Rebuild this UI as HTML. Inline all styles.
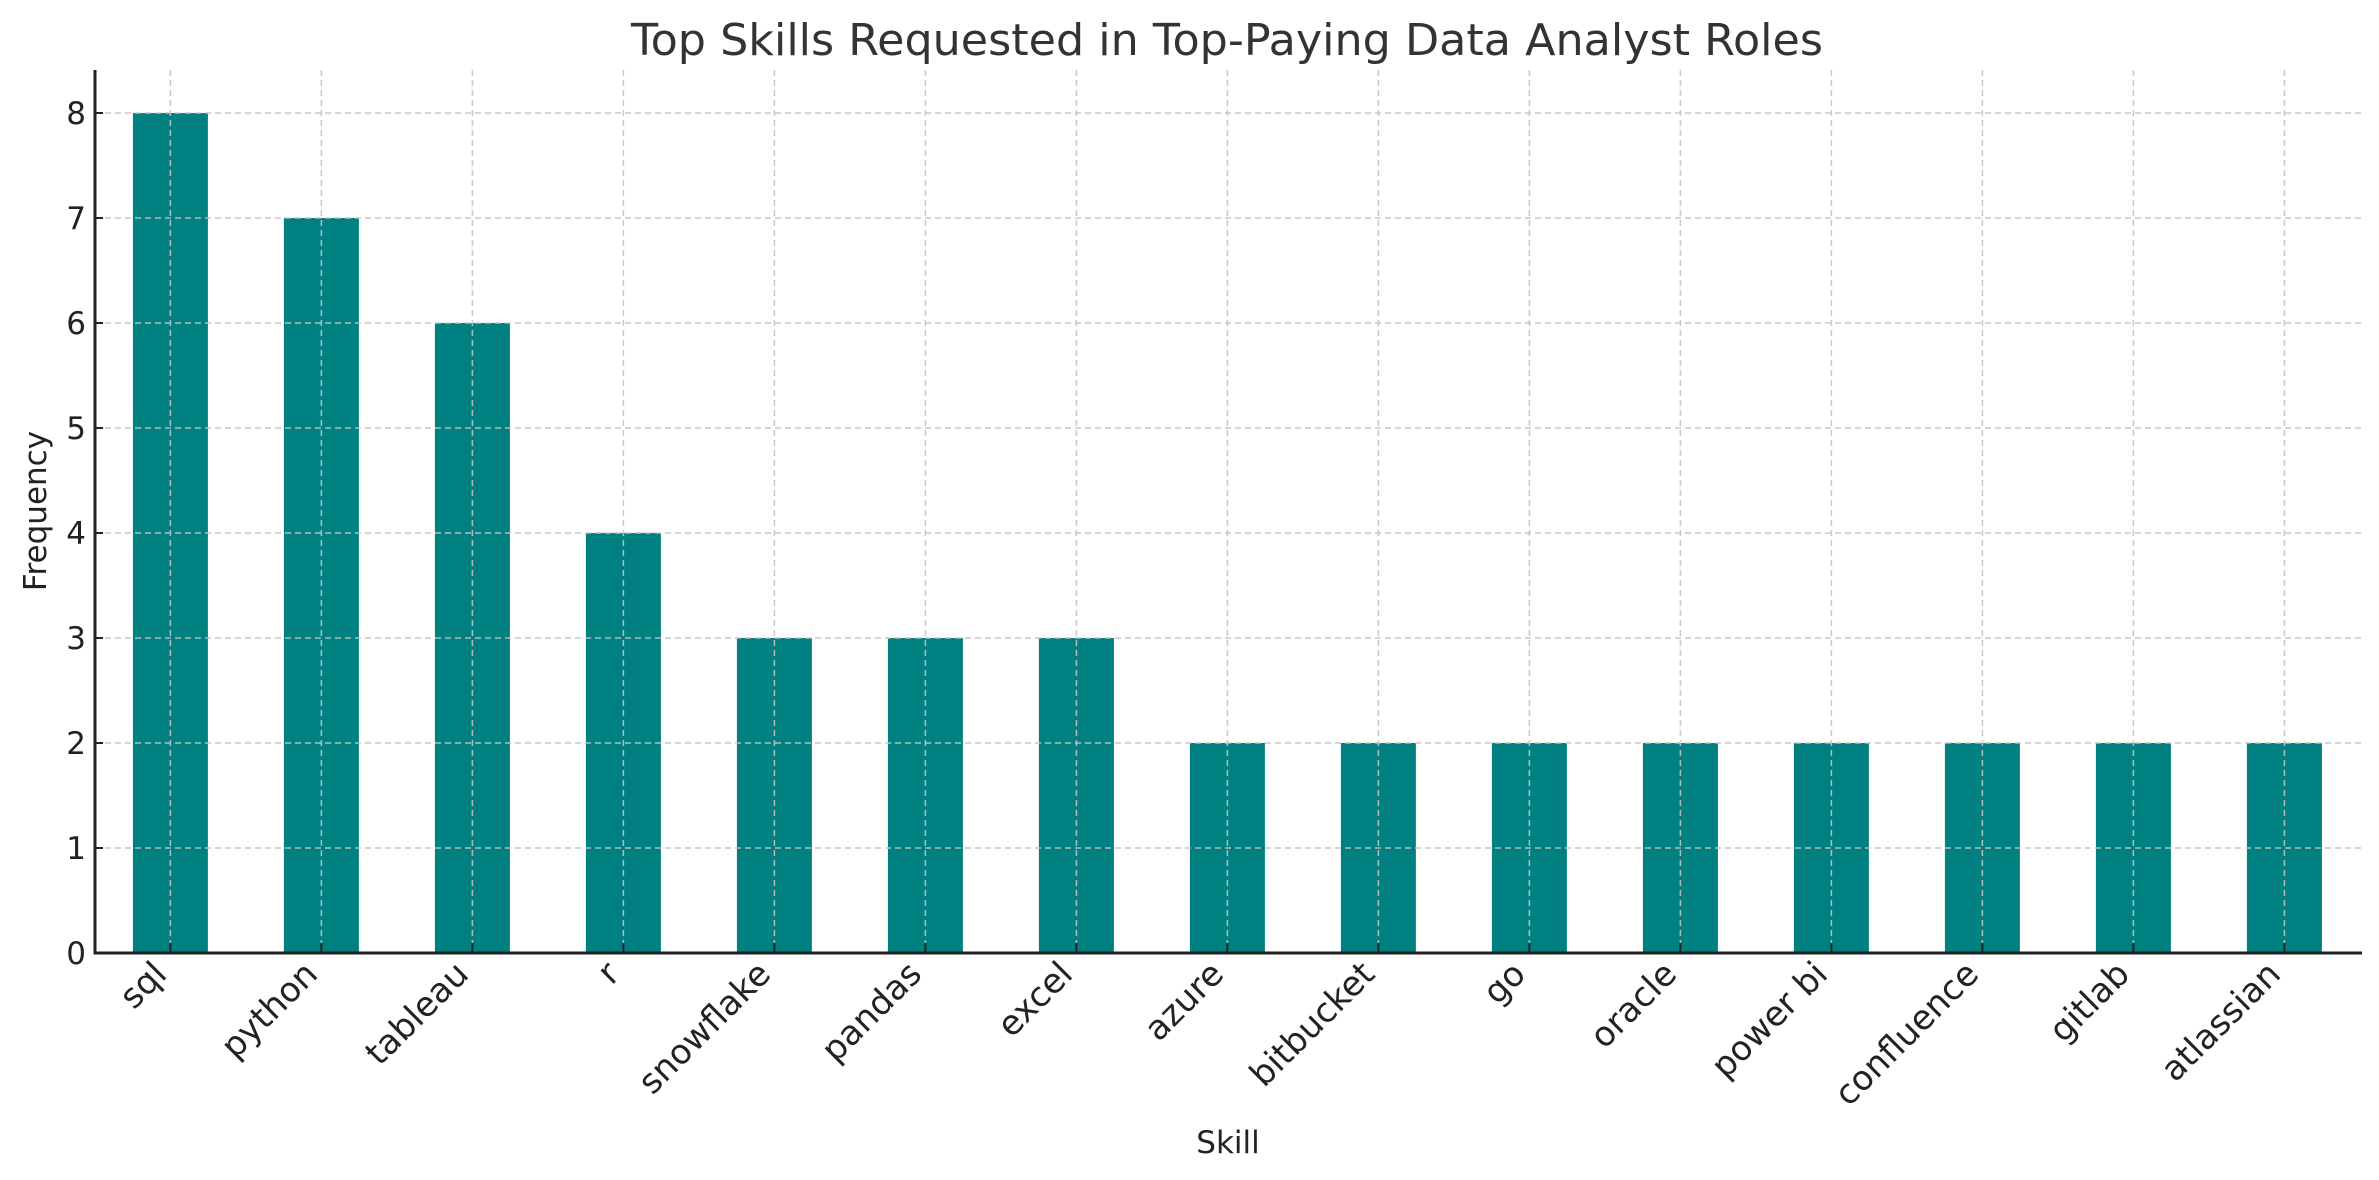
<!DOCTYPE html>
<html><head><meta charset="utf-8"><style>
html,body{margin:0;padding:0;background:#fff;}
svg{display:block;font-family:"DejaVu Sans","Liberation Sans",sans-serif;}
</style></head><body>
<svg id="chart" width="2379" height="1180" viewBox="0 0 2379 1180" xmlns="http://www.w3.org/2000/svg">
<rect width="2379" height="1180" fill="#fff"/>
<text x="1227" y="55" text-anchor="middle" font-size="44" fill="#333" textLength="1192" lengthAdjust="spacingAndGlyphs">Top Skills Requested in Top-Paying Data Analyst Roles</text>
<g id="bars"></g>
<g id="grid"></g>
<g id="axes"></g>
<text x="1228" y="1153" text-anchor="middle" font-size="31" fill="#222">Skill</text>
<text transform="translate(46,511) rotate(-90)" text-anchor="middle" font-size="31" fill="#222">Frequency</text>
</svg>
<script>
const categories = ["sql","python","tableau","r","snowflake","pandas","excel","azure","bitbucket","go","oracle","power bi","confluence","gitlab","atlassian"];
const values = [8,7,6,4,3,3,3,2,2,2,2,2,2,2,2];
const yTicks = [0,1,2,3,4,5,6,7,8];

const NS = "http://www.w3.org/2000/svg";
const axL = 95, axR = 2362, axT = 70, axB = 953;
const x0 = 170.4, step = 151, barW = 75;
function xScale(i){ return x0 + i*step; }
function yScale(v){ return axB - v*105; }
function mk(tag, attrs, parent){
  const e = document.createElementNS(NS, tag);
  for (const k in attrs) e.setAttribute(k, attrs[k]);
  parent.appendChild(e);
  return e;
}
const bars = document.getElementById('bars');
const grid = document.getElementById('grid');
const axes = document.getElementById('axes');

categories.forEach((c, i) => {
  const r = mk('rect', {x: xScale(i) - barW/2, y: yScale(values[i]), width: barW, height: axB - yScale(values[i]), fill: '#008080'}, bars);
  
  
  const g = mk('line', {x1: xScale(i), x2: xScale(i), y1: axT, y2: axB, stroke: '#c4c4c4', 'stroke-width': 1.5, 'stroke-dasharray': '6,4', opacity: 0.9}, grid);
  
  
  const t = mk('line', {x1: xScale(i), x2: xScale(i), y1: axB, y2: axB - 10, stroke: '#222', 'stroke-width': 2}, axes);
  
  
  const lx = xScale(i) - 2, ly = 976;
  const lb = mk('text', {x: lx, y: ly, 'text-anchor': 'end', 'font-size': 34, fill: '#222', transform: 'rotate(-45 ' + lx + ' ' + ly + ')'}, axes);
  lb.textContent = c;
  
  
});

yTicks.forEach(v => {
  const y = yScale(v);
  if (v > 0) {
    const g = mk('line', {x1: axL, x2: axR, y1: y, y2: y, stroke: '#c4c4c4', 'stroke-width': 1.5, 'stroke-dasharray': '6,4', opacity: 0.9}, grid);
    
    
  }
  const t = mk('line', {x1: axL, x2: axL + 8, y1: y, y2: y, stroke: '#222', 'stroke-width': 2}, axes);
  
  
  const lb = mk('text', {x: 86, y: y + 11, 'text-anchor': 'end', 'font-size': 31, fill: '#222'}, axes);
  lb.textContent = v;
  
  
});

const ya = mk('line', {x1: axL, x2: axL, y1: axT, y2: axB + 1.5, stroke: '#222', 'stroke-width': 3}, axes);


const xa = mk('line', {x1: axL - 1.5, x2: axR, y1: axB, y2: axB, stroke: '#222', 'stroke-width': 3}, axes);


</script>
</body></html>
